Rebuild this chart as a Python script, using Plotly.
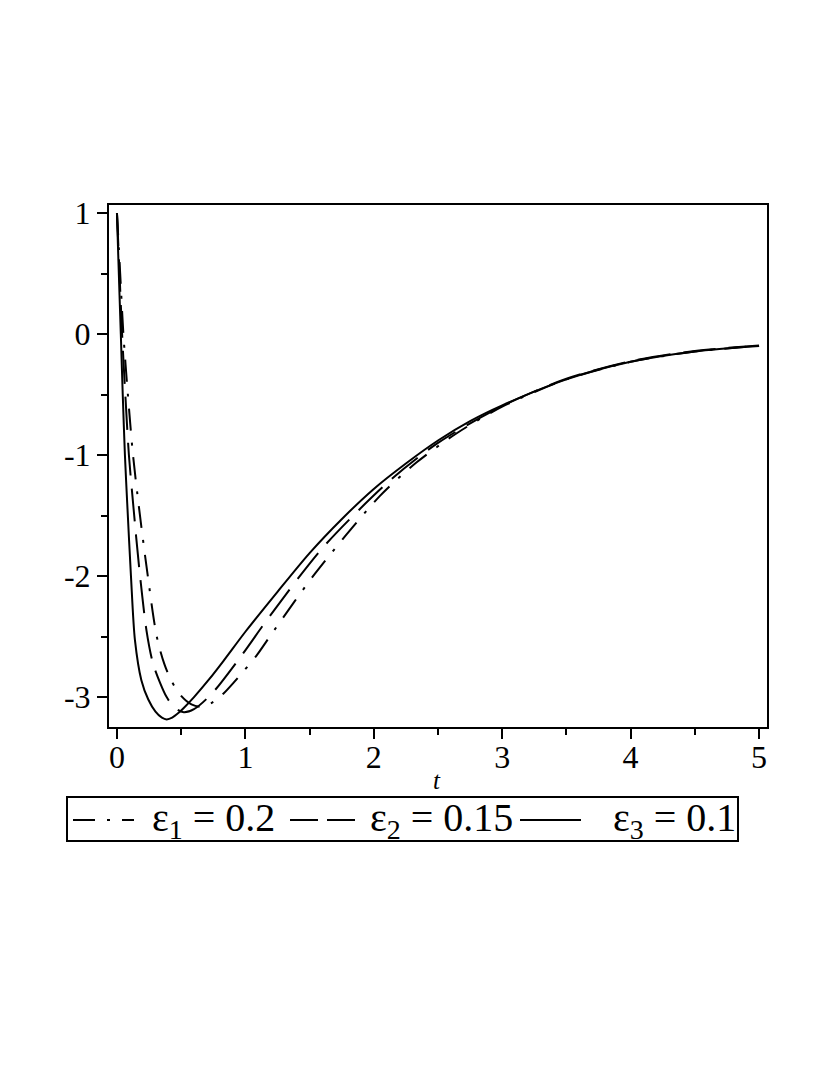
import plotly.graph_objects as go

# ---- data ----
t_eps1 = [0, 0.025, 0.05, 0.085, 0.125, 0.17, 0.23, 0.31, 0.37, 0.426, 0.5, 0.58, 0.66, 0.75, 0.83, 0.95,
          1.088, 1.19, 1.542, 2.05, 2.334, 2.646, 3.0, 3.5, 4.0, 4.5, 5.0]
y_eps1 = [1, 0.5, 0.0, -0.5, -1.0, -1.42, -1.92, -2.50, -2.73, -2.87, -2.99, -3.06, -3.08, -3.04, -2.97, -2.83,
          -2.655, -2.50, -1.98, -1.335, -1.06, -0.82, -0.60, -0.375, -0.23, -0.145, -0.098]

t_eps2 = [0, 0.02, 0.04, 0.065, 0.093, 0.13, 0.17, 0.23, 0.28, 0.335, 0.387, 0.45, 0.52, 0.6, 0.74, 0.971,
          1.19, 1.607, 2.126, 2.5, 3.0, 3.5, 4.0, 4.5, 5.0]
y_eps2 = [1, 0.5, 0.0, -0.5, -1.0, -1.45, -1.9, -2.45, -2.72, -2.88, -3.0, -3.09, -3.125, -3.10, -2.97, -2.655,
          -2.33, -1.76, -1.21, -0.90, -0.595, -0.37, -0.225, -0.14, -0.095]

t_eps3 = [0, 0.01, 0.02, 0.03, 0.045, 0.062, 0.08, 0.109, 0.14, 0.19, 0.244, 0.3, 0.35, 0.387, 0.43, 0.48,
          0.52, 0.6, 0.72, 0.83, 1.0, 1.25, 1.5, 1.75, 2.0, 2.25, 2.5, 2.75, 3.0, 3.5, 4.0, 4.5, 5.0]
y_eps3 = [1, 0.65, 0.32, 0.0, -0.5, -1.0, -1.4, -2.0, -2.53, -2.86, -3.02, -3.12, -3.17, -3.184, -3.17, -3.13,
          -3.09, -3.0, -2.85, -2.70, -2.46, -2.13, -1.81, -1.53, -1.28, -1.07, -0.88, -0.72, -0.59, -0.375, -0.23,
          -0.145, -0.10]

series_names = ["ε<sub>1</sub> = 0.2", "ε<sub>2</sub> = 0.15", "ε<sub>3</sub> = 0.1"]

x_tickvals = [0, 1, 2, 3, 4, 5]
x_ticktext = ["0", "1", "2", "3", "4", "5"]
y_tickvals = [1, 0, -1, -2, -3]
y_ticktext = ["1", "0", "-1", "-2", "-3"]

# ---- layout geometry (pixels of the reference screenshot; page body adds an 8px offset) ----
OFF = 8
W, H = 830 - OFF, 1075 - OFF
L, R, T, B = 109, 767, 205, 727
PW, PH = R - L, B - T


def px(xp):
    return (xp - L) / PW


def py(yp):
    return (B - yp) / PH


FONT = "Liberation Serif, Times New Roman, serif"
dash_dd = "22px,12px,3px,12px"
dash_d = "33px,13px"

fig = go.Figure()
styles = [dash_dd, dash_d, "solid"]
for t, y, name, dash in zip([t_eps1, t_eps2, t_eps3], [y_eps1, y_eps2, y_eps3], series_names, styles):
    fig.add_trace(go.Scatter(x=t, y=y, mode="lines", name=name, showlegend=False,
                             line=dict(color="black", width=2, dash=dash, shape="spline", smoothing=0.8)))

axis_common = dict(showline=True, linecolor="black", linewidth=2, mirror=True, showgrid=False,
                   zeroline=False, ticks="outside", ticklen=10, tickwidth=2, tickcolor="black",
                   tickfont=dict(family=FONT, size=32, color="black"),
                   minor=dict(ticks="outside", ticklen=6, tickwidth=2, tickcolor="black", dtick=0.5, showgrid=False))

fig.update_xaxes(range=[-0.062, 5.062], tickvals=x_tickvals, ticktext=x_ticktext,
                 ticklabelstandoff=-9, **axis_common)
fig.update_yaxes(range=[-3.247, 1.066], tickvals=y_tickvals, ticktext=y_ticktext, **axis_common)

shapes = []
annotations = []
# axis title
annotations.append(dict(text="<i>t</i>", x=px(437), y=py(780), xref="paper", yref="paper", showarrow=False,
                        xanchor="center", yanchor="middle", font=dict(family=FONT, size=25, color="black")))
# legend box
shapes.append(dict(type="rect", xref="paper", yref="paper", x0=px(67), x1=px(738), y0=py(841), y1=py(797),
                   line=dict(color="black", width=2), fillcolor="rgba(0,0,0,0)"))
ly = py(820)
samples = [(73, 134, dash_dd, 150), (290, 355, "28px,9px", 368), (520, 581, "solid", 611)]
for (a, b, dsh, tx), name in zip(samples, series_names):
    shapes.append(dict(type="line", xref="paper", yref="paper", x0=px(a), x1=px(b), y0=ly, y1=ly,
                       line=dict(color="black", width=2, dash=dsh)))
    annotations.append(dict(text=name, x=px(tx), y=py(820), xref="paper", yref="paper", showarrow=False,
                            xanchor="left", yanchor="middle", font=dict(family=FONT, size=40, color="black")))

fig.update_layout(width=W, height=H,
                  margin=dict(l=L - OFF, r=830 - R, t=T - OFF, b=1075 - B, autoexpand=False),
                  paper_bgcolor="white", plot_bgcolor="white", shapes=shapes, annotations=annotations,
                  showlegend=False)

fig.write_html("out.html")
